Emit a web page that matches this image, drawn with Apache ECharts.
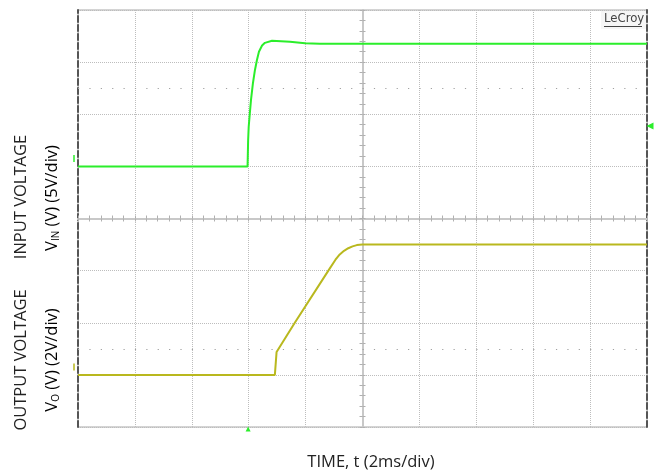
<!DOCTYPE html>
<html>
<head>
<meta charset="utf-8">
<script src="https://cdn.jsdelivr.net/npm/echarts@6/dist/echarts.min.js"></script>
<style>
html,body{margin:0;padding:0;background:#fff;}
#c{width:666px;height:473px;}
</style>
</head>
<body>
<div id="c"></div>
<script>
// Time base: 2 ms/div, 10 divisions
const timeMin = 0, timeMax = 20, timeStep = 2;
// CH1 input voltage (5 V/div)
const inTime = [0, 5.96, 5.98, 6.0, 6.04, 6.08, 6.15, 6.22, 6.29, 6.36, 6.47, 6.57, 6.82, 7.45, 7.98, 8.5, 20];
const inVolt = [0, 0, 2.5, 3.8, 5.1, 6.35, 8.0, 9.25, 10.2, 11.0, 11.6, 11.85, 12.05, 11.95, 11.8, 11.77, 11.77];
// CH2 output voltage (2 V/div)
const outTime = [0, 6.92, 6.98, 7.62, 8.80, 9.05, 9.2, 9.35, 9.5, 9.65, 9.8, 10.0, 20];
const outVolt = [0, 0, 0.88, 2.0, 4.0, 4.42, 4.62, 4.76, 4.86, 4.93, 4.98, 5.0, 5.0];
// channel scales
const inAxis = {min: -25, max: 15, step: 5};
const outAxis = {min: -2, max: 14, step: 2};
const inCursor = 7.5, outCursor = 1;
const trigLevel = 3.87, trigTime = 5.98;

const zip = (a, b) => a.map((v, i) => [v, b[i]]);
const chart = echarts.init(document.getElementById('c'), null, {renderer: 'canvas'});
const gridDot = {color: '#bdbdbd', width: 1, type: [1, 1]};
const hidden = {axisLine: {show: false}, axisTick: {show: false}, axisLabel: {show: false}, splitLine: {show: false}};
const centerLine = {show: true, lineStyle: {color: '#c8c8c8', width: 2}};
const centerTick = {show: true, length: 3, lineStyle: {color: '#b0b0b0', width: 1}};
const centerMinor = {show: true, splitNumber: 5, length: 3, lineStyle: {color: '#b0b0b0', width: 1}};
const font = "'Open Sans', 'DejaVu Sans', sans-serif";
const green = '#2bee2b', olive = '#b9b81e';

chart.setOption({
  animation: false,
  backgroundColor: '#fff',
  grid: {left: 78, top: 10, width: 569, height: 417, show: true, borderColor: '#a8a8a8', borderWidth: 1, backgroundColor: 'transparent'},
  xAxis: [
    {type: 'value', min: timeMin, max: timeMax, interval: timeStep, position: 'bottom',
     axisLine: Object.assign({onZero: true, onZeroAxisIndex: 2}, centerLine),
     axisTick: centerTick, minorTick: centerMinor, axisLabel: {show: false},
     splitLine: {show: true, lineStyle: gridDot}},
    {type: 'value', min: timeMin, max: timeMax, interval: timeStep, position: 'top',
     axisLine: Object.assign({onZero: true, onZeroAxisIndex: 2}, centerLine),
     axisTick: centerTick, minorTick: centerMinor, axisLabel: {show: false},
     splitLine: {show: false}},
    Object.assign({type: 'value', min: -5, max: 5, interval: 1}, hidden)
  ],
  yAxis: [
    {type: 'value', min: inAxis.min, max: inAxis.max, interval: inAxis.step, position: 'left',
     axisLine: {show: true, onZero: false, lineStyle: {color: '#555', width: 2, type: [6, 3]}},
     axisTick: {show: false}, axisLabel: {show: false},
     splitLine: {show: true, lineStyle: gridDot}},
    {type: 'value', min: outAxis.min, max: outAxis.max, interval: outAxis.step, position: 'right',
     axisLine: {show: true, onZero: false, lineStyle: {color: '#555', width: 2, type: [6, 3]}},
     axisTick: {show: false}, axisLabel: {show: false}, splitLine: {show: false}},
    Object.assign({type: 'value', min: -4, max: 4, interval: 1, position: 'left'}, hidden),
    {type: 'value', min: -4, max: 4, interval: 1, position: 'left',
     axisLine: Object.assign({onZero: true, onZeroAxisIndex: 2}, centerLine),
     axisTick: centerTick, minorTick: centerMinor, axisLabel: {show: false}, splitLine: {show: false}},
    {type: 'value', min: -4, max: 4, interval: 1, position: 'right',
     axisLine: Object.assign({onZero: true, onZeroAxisIndex: 2}, centerLine),
     axisTick: centerTick, minorTick: centerMinor, axisLabel: {show: false}, splitLine: {show: false}}
  ],
  series: [
    {type: 'line', name: 'VIN', xAxisIndex: 0, yAxisIndex: 0, data: zip(inTime, inVolt),
     showSymbol: false, smooth: false, z: 5, lineStyle: {color: green, width: 2},
     markLine: {silent: true, symbol: 'none', label: {show: false},
       lineStyle: {color: '#a0a0a0', width: 1.2, type: [1.2, 10.18]}, data: [{yAxis: inCursor}]},
     markPoint: {silent: true, label: {show: false}, itemStyle: {color: green},
       data: [
         {coord: [timeMax, trigLevel], symbol: 'triangle', symbolRotate: 90, symbolSize: [7, 7], symbolOffset: [3, 0]},
         {coord: [trigTime, inAxis.min], symbol: 'triangle', symbolSize: [5, 5], symbolOffset: [0, 2]},
         {coord: [timeMin, 0], symbol: 'rect', symbolSize: [1.5, 7], symbolOffset: [-4, -8]}
       ]}},
    {type: 'line', name: 'VO', xAxisIndex: 0, yAxisIndex: 1, data: zip(outTime, outVolt),
     showSymbol: false, smooth: false, z: 4, lineStyle: {color: olive, width: 2},
     markLine: {silent: true, symbol: 'none', label: {show: false},
       lineStyle: {color: '#a0a0a0', width: 1.2, type: [1.2, 10.18]}, data: [{yAxis: outCursor}]},
     markPoint: {silent: true, label: {show: false}, itemStyle: {color: olive},
       data: [{coord: [timeMin, 0], symbol: 'rect', symbolSize: [1.5, 7], symbolOffset: [-4, -8]}]}}
  ],
  graphic: [
    {type: 'rect', left: 601, top: 11, shape: {width: 45, height: 18}, style: {fill: '#f6f6f6'}, silent: true},
    {type: 'text', left: 604, top: 12, style: {text: 'LeCroy', font: "13px 'Liberation Sans Narrow', 'DejaVu Sans Condensed', sans-serif", fill: '#444'}},
    {type: 'rect', left: 604, top: 26, shape: {width: 38, height: 1}, style: {fill: '#444'}},
    {type: 'text', x: 21, y: 197, rotation: Math.PI / 2,
     style: {text: 'INPUT VOLTAGE', font: '16.5px ' + font, fill: '#222', align: 'center', verticalAlign: 'middle'}},
    {type: 'text', x: 50, y: 198, rotation: Math.PI / 2,
     style: {text: '{a|V}{s|IN}{a| (V) (5V/div)}', align: 'center', verticalAlign: 'middle',
       rich: {a: {fontSize: 16.5, fontFamily: font, color: '#222', lineHeight: 22, verticalAlign: 'bottom'},
              s: {fontSize: 10, fontFamily: font, color: '#222', lineHeight: 15, verticalAlign: 'bottom'}}}},
    {type: 'text', x: 21, y: 360, rotation: Math.PI / 2,
     style: {text: 'OUTPUT VOLTAGE', font: '16.5px ' + font, fill: '#222', align: 'center', verticalAlign: 'middle'}},
    {type: 'text', x: 50, y: 360, rotation: Math.PI / 2,
     style: {text: '{a|V}{s|O}{a| (V) (2V/div)}', align: 'center', verticalAlign: 'middle',
       rich: {a: {fontSize: 16.5, fontFamily: font, color: '#222', lineHeight: 22, verticalAlign: 'bottom'},
              s: {fontSize: 10, fontFamily: font, color: '#222', lineHeight: 15, verticalAlign: 'bottom'}}}},
    {type: 'text', x: 371, y: 462,
     style: {text: 'TIME, t (2ms/div)', font: '16.5px ' + font, fill: '#222', align: 'center', verticalAlign: 'middle'}}
  ]
});
</script>
</body>
</html>
